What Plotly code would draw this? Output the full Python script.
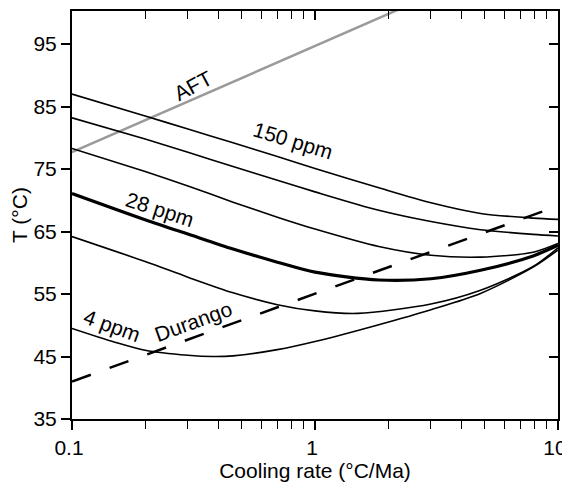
import numpy as np
import plotly.graph_objects as go

# ---- data ----
rate = [0.1, 0.2, 0.3, 0.46, 0.7, 1.0, 1.83, 3.0, 4.8, 7.9, 10.0]
t_150 = [87.0, 83.5, 81.4, 79.2, 77.0, 75.1, 72.0, 69.6, 67.9, 67.15, 66.95]
t_c2 = [83.2, 79.8, 77.7, 75.4, 73.2, 71.35, 68.4, 66.6, 65.3, 64.55, 64.3]
t_c3 = [78.3, 74.6, 72.3, 69.7, 67.3, 65.4, 62.6, 61.2, 60.9, 61.7, 63.1]
t_28 = [71.1, 66.9, 64.6, 62.2, 60.1, 58.5, 57.25, 57.45, 58.8, 61.1, 62.8]
rate_5 = [0.1, 0.2, 0.3, 0.46, 0.7, 1.0, 1.5, 3.0, 4.8, 7.9, 10.0]
t_c5 = [64.2, 60.2, 57.7, 55.2, 53.3, 52.3, 51.9, 53.4, 55.6, 59.4, 62.4]
rate_4 = [0.1, 0.15, 0.2, 0.3, 0.38, 0.46, 0.7, 1.0, 1.83, 3.0, 4.8, 7.9, 10.0]
t_4 = [49.5, 47.3, 46.0, 45.2, 45.0, 45.1, 46.1, 47.4, 50.1, 52.5, 55.1, 59.3, 62.05]
aft_rate = [0.1, 10.0]
aft_t = [77.7, 111.7]
dur_rate = [0.1, 10.0]
dur_t = [41.0, 69.1]

x_ticks = [0.1, 1, 10]
x_ticktext = ["0.1", "1", "10"]
x_minor = [0.2, 0.3, 0.4, 0.5, 0.6, 0.7, 0.8, 0.9, 2, 3, 4, 5, 6, 7, 8, 9]
y_ticks = [35, 45, 55, 65, 75, 85, 95]

labels = ["AFT", "150 ppm", "28 ppm", "4 ppm", "Durango"]
label_rate = [0.315, 0.81, 0.231, 0.146, 0.315]
label_t = [88.4, 79.5, 68.6, 50.0, 50.6]
label_angle = [-28, 17, 18, 20, -20]

FONT = "Liberation Sans, Arial, Helvetica, sans-serif"
FS = 21

fig = go.Figure()
fig.add_trace(go.Scatter(x=aft_rate, y=aft_t, mode="lines",
                         line=dict(color="#9a9a9a", width=2.5), hoverinfo="skip"))
fig.add_trace(go.Scatter(x=dur_rate, y=dur_t, mode="lines",
                         line=dict(color="black", width=2.5, dash="20px,20px"), hoverinfo="skip"))
for xs, ys, w in [(rate, t_150, 1.6), (rate, t_c2, 1.6), (rate, t_c3, 1.6),
                  (rate, t_28, 3.2), (rate_5, t_c5, 1.6), (rate_4, t_4, 1.6)]:
    fig.add_trace(go.Scatter(x=xs, y=ys, mode="lines",
                             line=dict(color="black", width=w, shape="spline", smoothing=0.8),
                             hoverinfo="skip"))
# invisible trace for the mirrored (inside-tick) axes
fig.add_trace(go.Scatter(x=[1], y=[60], mode="markers", marker=dict(opacity=0),
                         xaxis="x2", yaxis="y2", hoverinfo="skip"))

for txt, r, t, a in zip(labels, label_rate, label_t, label_angle):
    fig.add_annotation(x=np.log10(r), y=t, xref="x", yref="y", text=txt,
                       textangle=a, showarrow=False,
                       font=dict(family=FONT, size=FS, color="black"))

# the page body adds an 8px offset, so the figure is 8px smaller on each side
yr = [35, 100.3]
fig.update_layout(
    template="none",
    width=562, height=474,
    margin=dict(l=64, r=12, t=3, b=63, autoexpand=False),
    paper_bgcolor="white", plot_bgcolor="white",
    showlegend=False,
    font=dict(family=FONT, size=FS, color="black"),
    xaxis=dict(type="log", range=[-1, 1], showgrid=False, zeroline=False, automargin=False,
               showline=True, linecolor="black", linewidth=2, mirror=True,
               tickmode="array", tickvals=x_ticks, ticktext=x_ticktext,
               ticklabeloverflow="allow", ticklabelshift=-3,
               ticks="outside", ticklen=9, tickwidth=2, tickcolor="black",
               minor=dict(tickmode="array", tickvals=x_minor, ticks="outside",
                          ticklen=8, tickwidth=1.3, tickcolor="black", showgrid=False),
               title=dict(text="Cooling rate (°C/Ma)", standoff=6,
                          font=dict(family=FONT, size=FS))),
    yaxis=dict(range=yr, showgrid=False, zeroline=False, automargin=False,
               showline=True, linecolor="black", linewidth=2, mirror=True,
               tickmode="array", tickvals=y_ticks, ticklabeloverflow="allow",
               ticks="outside", ticklen=9, tickwidth=2, tickcolor="black",
               title=dict(text="T (°C)", standoff=6,
                          font=dict(family=FONT, size=FS))),
    xaxis2=dict(type="log", range=[-1, 1], overlaying="x", side="top", automargin=False,
                showgrid=False, zeroline=False, showline=False,
                tickmode="array", tickvals=x_ticks, showticklabels=False,
                ticks="inside", ticklen=9, tickwidth=2, tickcolor="black",
                minor=dict(tickmode="array", tickvals=x_minor, ticks="inside",
                           ticklen=8, tickwidth=1.3, tickcolor="black", showgrid=False)),
    yaxis2=dict(range=yr, overlaying="y", side="right", automargin=False,
                showgrid=False, zeroline=False, showline=False,
                tickmode="array", tickvals=y_ticks, showticklabels=False,
                ticks="inside", ticklen=9, tickwidth=2, tickcolor="black"),
)

fig.write_html("out.html")
